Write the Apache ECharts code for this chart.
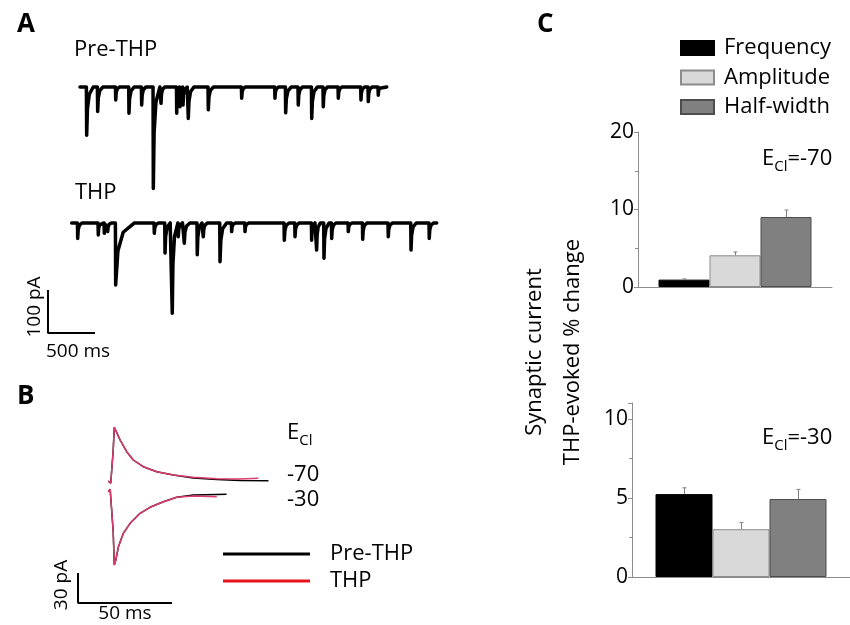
<!DOCTYPE html>
<html><head><meta charset="utf-8">
<script src="https://cdn.jsdelivr.net/npm/echarts@6/dist/echarts.min.js"></script>
<style>html,body{margin:0;padding:0;background:#fff}#c{width:850px;height:625px}</style>
</head><body><div id="c"></div>
<script>
// ---------------- DATA ----------------
// Panel A: spontaneous synaptic events [time from trace start (ms), amplitude (pA, inward), recovery (ms)]
const preTHPEvents = [
  [71,112,70],[188,57,55],[380,30,40],[521,61,55],[656,42,45],[780,236,70],[862,38,40],
  [1029,61,30],[1064,46,28],[1096,42,45],[1152,73,60],[1365,53,55],[1720,26,40],[2074,26,40],
  [2188,60,60],[2322,42,45],[2465,73,60],[2588,46,45],[2748,26,40],[2989,30,40],[3067,34,40],[3173,19,35]
];
const preTHPDuration = 3263;
const thpEvents = [
  [64,36,45],[283,28,35],[347,24,28],[383,20,40],[468,144,200],[879,24,45],[993,70,55],
  [1070,210,60],[1134,32,45],[1198,47,60],[1336,74,50],[1400,32,45],[1578,90,70],[1702,20,40],
  [1844,20,40],[2262,40,50],[2376,32,45],[2553,40,35],[2606,63,40],[2684,82,55],[2766,36,45],
  [2943,20,40],[3096,38,45],[3368,32,45],[3610,63,55],[3804,36,45]
];
const thpDuration = 3883;
const scaleA = {pA: 100, ms: 500};

// Panel B: averaged synaptic currents [time from onset (ms), current (pA, from baseline)]
const pre70 = [[-2,0],[-0.7,-2.3],[0,-1],[0.6,30],[1.2,53.7],[2,52],[4.3,41],[7.8,29.3],[11.3,21],[16.6,14.3],[23.8,9.3],[32.6,6],[43.2,3],[55.7,1.5],[68,0.5],[83.2,0.3]];
const thp70 = [[-2,0],[-0.7,-2.3],[0,-1],[0.6,30],[1.2,53.7],[2,52],[4.3,41],[7.8,29.3],[11.3,21],[16.6,14.3],[23.8,9.3],[32.6,6],[43.2,3.7],[55.7,2.3],[68,2],[77.8,2.7]];
const pre30 = [[-2,4.3],[-1,6.7],[0,5],[0.6,-35],[1.2,-69],[2,-64],[3.4,-50.7],[6,-37.3],[9.6,-27.3],[14.9,-17.3],[20.2,-11.3],[27.3,-5.7],[34.4,-1.3],[43.2,1],[55.7,1.5],[60.9,1.7]];
const thp30 = [[-2,4.3],[-1,6.7],[0,5],[0.6,-35],[1.2,-69],[2,-64],[3.4,-50.7],[6,-37.3],[9.6,-27.3],[14.9,-17.3],[20.2,-11.3],[27.3,-5.7],[34.4,-1.3],[43.2,0],[55.7,-0.7]];
const scaleB = {pA: 30, ms: 50};
const eclLevels = ['-70', '-30'];

// Panel C: THP-evoked % change
const measures = ['Frequency', 'Amplitude', 'Half-width'];
const ecl70Values = [0.95, 4.09, 9.03];
const ecl70Errors = [0.1, 0.43, 0.9];
const ecl30Values = [5.24, 3.02, 4.93];
const ecl30Errors = [0.4, 0.43, 0.61];
const ecl70Axis = {min: 0, max: 20, interval: 10};
const ecl30Axis = {min: 0, max: 11, interval: 5};

// ---------------- LAYOUT / STYLE ----------------
const FONT = 'Open Sans';
const LA = {preStart: 425.5, preBase: -62.8, thpStart: 337, thpBase: -379, barT: 85, barV: -635};
const LB = {onset: 33, base70: -81, base30: -96, barT: 14.9, barV: -203};
const BW1 = 51, BW2 = 57;
const barColors = ['#000000', '#d9d9d9', '#808080'];
const barBorders = ['#000000', '#8c8c8c', '#4d4d4d'];
const THP_RED = '#dc3c6e';

// draw each event as a fast drop with a curved recovery back to baseline
function buildTrace(events, duration, t0, base) {
  const pts = [[t0, base]];
  events.forEach(([t, a, r]) => {
    pts.push([t0 + t - 3, base]);
    pts.push([t0 + t, base - a]);
    pts.push([t0 + t + r * 0.12, base - a * 0.45]);
    pts.push([t0 + t + r * 0.4, base - a * 0.15]);
    pts.push([t0 + t + r, base]);
  });
  pts.push([t0 + duration, base]);
  return pts;
}
function shift(arr, t0, v0) { return arr.map(([t, v]) => [t0 + t, v0 + v]); }

const lineCommon = {type: 'line', symbol: 'none', silent: true, animation: false};
const traceStyle = {color: '#000', width: 3.5, join: 'round', cap: 'round'};

const series = [];
// Panel A traces
series.push(Object.assign({}, lineCommon, {name: 'A-pre', xAxisIndex: 0, yAxisIndex: 0,
  data: buildTrace(preTHPEvents, preTHPDuration, LA.preStart, LA.preBase), lineStyle: traceStyle}));
series.push(Object.assign({}, lineCommon, {name: 'A-thp', xAxisIndex: 0, yAxisIndex: 0,
  data: buildTrace(thpEvents, thpDuration, LA.thpStart, LA.thpBase), lineStyle: traceStyle}));
series.push(Object.assign({}, lineCommon, {name: 'A-scale', xAxisIndex: 0, yAxisIndex: 0,
  data: [[LA.barT, LA.barV + scaleA.pA], [LA.barT, LA.barV], [LA.barT + scaleA.ms, LA.barV]],
  lineStyle: {color: '#000', width: 2}}));
// Panel B traces
series.push(Object.assign({}, lineCommon, {name: 'Pre-THP', xAxisIndex: 1, yAxisIndex: 1, color: '#000',
  data: shift(pre70, LB.onset, LB.base70), lineStyle: {color: '#000', width: 1.5}}));
series.push(Object.assign({}, lineCommon, {name: 'Pre-THP', xAxisIndex: 1, yAxisIndex: 1, color: '#000',
  data: shift(pre30, LB.onset, LB.base30), lineStyle: {color: '#000', width: 1.5}}));
series.push(Object.assign({}, lineCommon, {name: 'THP', xAxisIndex: 1, yAxisIndex: 1, color: THP_RED,
  data: shift(thp70, LB.onset, LB.base70), lineStyle: {color: THP_RED, width: 1.5}}));
series.push(Object.assign({}, lineCommon, {name: 'THP', xAxisIndex: 1, yAxisIndex: 1, color: THP_RED,
  data: shift(thp30, LB.onset, LB.base30), lineStyle: {color: THP_RED, width: 1.5}}));
series.push(Object.assign({}, lineCommon, {name: 'B-scale', xAxisIndex: 1, yAxisIndex: 1,
  data: [[LB.barT, LB.barV + scaleB.pA], [LB.barT, LB.barV], [LB.barT + scaleB.ms, LB.barV]],
  lineStyle: {color: '#000', width: 2}}));

// Panel C bars
[[2, ecl70Values, BW1], [3, ecl30Values, BW2]].forEach(([ax, vals, bw]) => {
  measures.forEach((m, i) => {
    series.push({type: 'bar', name: m, xAxisIndex: ax, yAxisIndex: ax, barWidth: bw, barGap: '0%',
      animation: false, silent: true, data: [vals[i]],
      itemStyle: {color: barColors[i], borderColor: barBorders[i], borderWidth: 1}});
  });
});
function errSeries(ax, vals, errs, bw) {
  return {type: 'custom', xAxisIndex: ax, yAxisIndex: ax, silent: true, animation: false, z: 5,
    data: vals.map((v, i) => [0, v, errs[i], i]), encode: {x: 0, y: 1},
    renderItem: function (params, api) {
      const i = api.value(3);
      const b = api.coord([0, api.value(1)]);
      const t = api.coord([0, api.value(1) + api.value(2)]);
      const x = Math.round(b[0] + (i - 1) * bw) + 0.5;
      const st = {stroke: '#808080', lineWidth: 1};
      return {type: 'group', children: [
        {type: 'line', shape: {x1: x, y1: b[1], x2: x, y2: t[1]}, style: st},
        {type: 'line', shape: {x1: x - 2, y1: t[1], x2: x + 2, y2: t[1]}, style: st}
      ]};
    }};
}
series.push(errSeries(2, ecl70Values, ecl70Errors, BW1));
series.push(errSeries(3, ecl30Values, ecl30Errors, BW2));

const hiddenVal = (min, max) => ({type: 'value', min: min, max: max, show: false});
const catAxis = (gi) => ({type: 'category', gridIndex: gi, data: [''],
  axisLine: {lineStyle: {color: '#8c8c8c', width: 1}}, axisTick: {show: false}, axisLabel: {show: false}});
const valAxis = (gi, cfg) => ({type: 'value', gridIndex: gi, min: cfg.min, max: cfg.max, interval: cfg.interval,
  axisLine: {show: true, lineStyle: {color: '#8c8c8c', width: 1}},
  axisTick: {show: true, length: 4, lineStyle: {color: '#8c8c8c'}},
  minorTick: {show: true, splitNumber: 2, length: 3, lineStyle: {color: '#8c8c8c'}},
  splitLine: {show: false},
  axisLabel: {fontFamily: FONT, fontSize: 21, color: '#000', margin: 4}});

function txt(text, x, y, size, opts) {
  return Object.assign({type: 'text', x: x, y: y, silent: true, style: Object.assign({
    text: text, fontFamily: FONT, fontSize: size, fill: '#000',
    align: 'left', verticalAlign: 'middle', textAlign: 'left', textVerticalAlign: 'middle'}, (opts && opts.style) || {})},
    (opts && opts.el) || {});
}
function eclText(val, x, y) {
  return {type: 'text', x: x, y: y, silent: true, style: {
    text: '{e|E}{s|Cl}' + (val ? '{e|=' + val + '}' : ''), fontFamily: FONT,
    align: 'left', verticalAlign: 'middle', textAlign: 'left', textVerticalAlign: 'middle',
    rich: {e: {fontFamily: FONT, fontSize: 22, lineHeight: 30, verticalAlign: 'middle', fill: '#000'},
           s: {fontFamily: FONT, fontSize: 15, lineHeight: 30, verticalAlign: 'bottom', fill: '#000'}}}};
}

const option = {
  animation: false,
  grid: [
    {left: 40, top: 60, width: 470, height: 301},
    {left: 50, top: 400, width: 376, height: 220},
    {left: 638, top: 132, width: 194, height: 155},
    {left: 632, top: 403, width: 218, height: 174}
  ],
  xAxis: [Object.assign(hiddenVal(0, 5000), {gridIndex: 0}), Object.assign(hiddenVal(0, 200), {gridIndex: 1}), catAxis(2), catAxis(3)],
  yAxis: [Object.assign(hiddenVal(-700, 0), {gridIndex: 0}), Object.assign(hiddenVal(-220, 0), {gridIndex: 1}), valAxis(2, ecl70Axis), valAxis(3, ecl30Axis)],
  legend: [
    {data: [{name: 'Pre-THP', itemStyle: {color: '#000'}}, {name: 'THP', itemStyle: {color: '#e8141b'}}],
     orient: 'vertical', left: 223, top: 543, icon: 'rect', itemWidth: 87, itemHeight: 3, itemGap: 5, padding: 0,
     selectedMode: false, textStyle: {fontFamily: FONT, fontSize: 22, color: '#000', lineHeight: 22, padding: [0, 0, 0, 15]}},
    {data: measures, orient: 'vertical', left: 680, top: 37, icon: 'rect', itemWidth: 33, itemHeight: 14, itemGap: 7.5, padding: 0,
     selectedMode: false, textStyle: {fontFamily: FONT, fontSize: 22, color: '#000', lineHeight: 22, padding: [0, 0, 0, 5]}}
  ],
  graphic: [
    txt('A', 17, 25, 26, {style: {fontWeight: 'bold'}}),
    txt('B', 17, 397, 26, {style: {fontWeight: 'bold'}}),
    txt('C', 537, 25, 26, {style: {fontWeight: 'bold'}}),
    txt('Pre-THP', 74, 50, 22),
    txt('THP', 75, 193, 22),
    txt('100 pA', 35, 307, 19, {style: {align: 'center', textAlign: 'center'}, el: {rotation: Math.PI / 2}}),
    txt('500 ms', 78, 352, 19, {style: {align: 'center', textAlign: 'center'}}),
    txt('30 pA', 62, 585, 19, {style: {align: 'center', textAlign: 'center'}, el: {rotation: Math.PI / 2}}),
    txt('50 ms', 125, 614, 19, {style: {align: 'center', textAlign: 'center'}}),
    eclText('', 287, 433),
    txt(eclLevels[0], 287, 475, 22),
    txt(eclLevels[1], 287, 500, 22),
    eclText('-70', 762, 159),
    eclText('-30', 762, 438),
    txt('Synaptic current\nTHP-evoked % change', 554, 352, 22,
      {style: {align: 'center', textAlign: 'center', lineHeight: 38}, el: {rotation: Math.PI / 2}})
  ],
  series: series
};
const chart = echarts.init(document.getElementById('c'), null, {renderer: 'canvas'});
chart.setOption(option);
</script></body></html>
